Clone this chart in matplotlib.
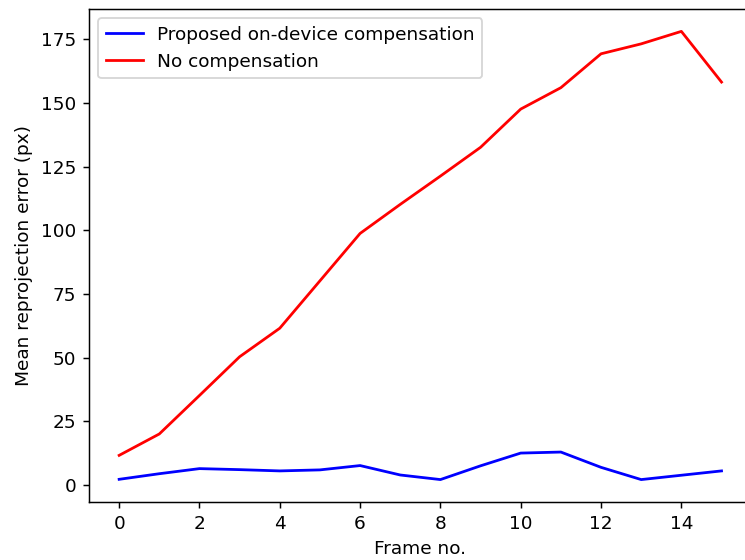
import matplotlib
matplotlib.use('Agg')
import matplotlib.pyplot as plt
import numpy as np

frames = np.arange(16)
proposed = [2.3, 4.5, 6.5, 6.1, 5.6, 6.0, 7.7, 4.0, 2.2, 7.6, 12.6, 13.0, 7.0, 2.2, 3.9, 5.6]
no_comp = [11.7, 20.1, 35.2, 50.4, 61.6, 80.2, 98.8, 110.2, 121.3, 132.6, 147.6, 156.0, 169.3, 173.2, 178.1, 158.2]

dpi = 133
fig = plt.figure(figsize=(745 / dpi, 560 / dpi), dpi=dpi)
# right spine falls just outside the canvas, as in the reference
ax = fig.add_axes([0.1195, 0.1036, 0.8894, 0.8804])
ax.spines['right'].set_visible(False)

ax.plot(frames, proposed, color='blue', label='Proposed on-device compensation')
ax.plot(frames, no_comp, color='red', label='No compensation')

ax.set_xlabel('Frame no.')
ax.set_ylabel('Mean reprojection error (px)')
ax.set_xticks(np.arange(0, 16, 2))
ax.legend(loc='upper left')

plt.savefig('out.png', dpi=dpi)
plt.close()
